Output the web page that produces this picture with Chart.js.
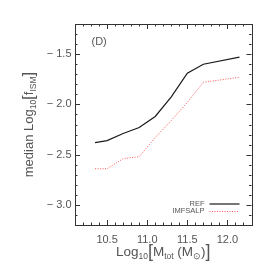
<!DOCTYPE html>
<html><head><meta charset="utf-8">
<script src="https://cdn.jsdelivr.net/npm/chart.js@4/dist/chart.umd.min.js"></script>
<style>html,body{margin:0;padding:0;background:#fff}#c{display:block}</style>
</head><body>
<canvas id="c" width="274" height="274"></canvas>
<script>
const massBins = [10.35, 10.5, 10.7, 10.9, 11.1, 11.3, 11.5, 11.7, 12.15];
const refValues = [-2.38, -2.36, -2.29, -2.23, -2.12, -1.925, -1.69, -1.60, -1.53];
const imfsalpValues = [-2.64, -2.64, -2.54, -2.52, -2.33, -2.16, -1.98, -1.78, -1.73];
const xTickLabels = [10.5, 11.0, 11.5, 12.0];
const yTickLabels = [-3.0, -2.5, -2.0, -1.5];
const seriesNames = ['REF', 'IMFSALP'];

const TXT = '#555';
const FONT = '"Liberation Sans", Arial, sans-serif';

function richText(ctx, segs, x, y, align) {
  let w = 0;
  segs.forEach(s => { ctx.font = s.s + 'px ' + FONT; w += ctx.measureText(s.t).width; });
  let cx = align === 'center' ? x - w / 2 : x;
  ctx.textAlign = 'left';
  ctx.textBaseline = 'alphabetic';
  segs.forEach(s => {
    ctx.font = s.s + 'px ' + FONT;
    ctx.fillText(s.t, cx, y + (s.dy || 0));
    cx += ctx.measureText(s.t).width;
  });
}

const decor = {
  id: 'decor',
  afterDraw(chart) {
    const ctx = chart.ctx, a = chart.chartArea;
    const xs = chart.scales.x, ys = chart.scales.y;
    ctx.save();
    ctx.strokeStyle = '#333';
    ctx.lineWidth = 1;
    ctx.strokeRect(Math.round(a.left) + 0.5, Math.round(a.top) + 0.5, Math.round(a.right - a.left), Math.round(a.bottom - a.top));
    ctx.beginPath();
    for (let i = 0; i <= 22; i++) {
      const v = 10.1 + i * 0.1;
      const px = Math.round(xs.getPixelForValue(v)) + 0.5;
      const major = Math.abs((v * 2) - Math.round(v * 2)) < 1e-6;
      const L = major ? 5 : 2.5;
      ctx.moveTo(px, a.bottom); ctx.lineTo(px, a.bottom - L);
      ctx.moveTo(px, a.top); ctx.lineTo(px, a.top + L);
    }
    for (let i = 0; i <= 20; i++) {
      const v = -3.2 + i * 0.1;
      const py = Math.round(ys.getPixelForValue(v)) + 0.5;
      const major = Math.abs((v * 2) - Math.round(v * 2)) < 1e-6;
      const L = major ? 5 : 2.5;
      ctx.moveTo(a.left, py); ctx.lineTo(a.left + L, py);
      ctx.moveTo(a.right, py); ctx.lineTo(a.right - L, py);
    }
    ctx.stroke();
    ctx.fillStyle = TXT;
    ctx.font = '11px ' + FONT;
    ctx.textAlign = 'center';
    ctx.textBaseline = 'alphabetic';
    xTickLabels.forEach(v => ctx.fillText(v.toFixed(1), xs.getPixelForValue(v), 242.5));
    ctx.textAlign = 'right';
    ctx.textBaseline = 'middle';
    yTickLabels.forEach(v => ctx.fillText('\u2212 ' + Math.abs(v).toFixed(1), 71.5, ys.getPixelForValue(v)));
    ctx.textAlign = 'left';
    ctx.textBaseline = 'alphabetic';
    ctx.font = '11px ' + FONT;
    ctx.fillText('(D)', 91.5, 45);
    richText(ctx, [
      {t:'Log', s:13.5}, {t:'10', s:8.5, dy:3}, {t:'[', s:18, dy:1}, {t:'M', s:13.5}, {t:'tot', s:8.5, dy:3},
      {t:' (M', s:13.5}, {t:'\u2299', s:9, dy:3}, {t:')', s:13.5}, {t:']', s:18, dy:1}
    ], (a.left + a.right) / 2, 255.5, 'center');
    ctx.save();
    ctx.translate(33, (a.top + a.bottom) / 2);
    ctx.rotate(-Math.PI / 2);
    richText(ctx, [
      {t:'median Log', s:13}, {t:'10', s:8.5, dy:3}, {t:'[', s:17, dy:1}, {t:'f', s:13}, {t:'ISM', s:8.5, dy:3}, {t:']', s:17, dy:1}
    ], 0, 0, 'center');
    ctx.restore();
    ctx.font = '7.5px ' + FONT;
    ctx.textAlign = 'right';
    ctx.textBaseline = 'alphabetic';
    const ds = chart.data.datasets;
    const rows = [205.5, 213];
    ds.forEach((d, i) => {
      ctx.fillStyle = TXT;
      ctx.fillText(d.label, 204.5, rows[i]);
      ctx.beginPath();
      ctx.strokeStyle = d.borderColor;
      ctx.lineWidth = d.borderWidth;
      ctx.setLineDash(d.borderDash || []);
      ctx.moveTo(209.5, rows[i] - 1.5);
      ctx.lineTo(239.5, rows[i] - 1.5);
      ctx.stroke();
    });
    ctx.restore();
  }
};

new Chart(document.getElementById('c'), {
  type: 'line',
  data: {
    datasets: [
      { label: seriesNames[0], data: massBins.map((x, i) => ({x, y: refValues[i]})),
        borderColor: '#1a1a1a', borderWidth: 1.2, pointRadius: 0, fill: false, tension: 0 },
      { label: seriesNames[1], data: massBins.map((x, i) => ({x, y: imfsalpValues[i]})),
        borderColor: 'rgb(255,85,85)', borderWidth: 1, borderDash: [1, 1.5], pointRadius: 0, fill: false, tension: 0 }
    ]
  },
  options: {
    responsive: false,
    animation: false,
    devicePixelRatio: 1,
    layout: { padding: { left: 75, top: 24, right: 22.5, bottom: 49 } },
    plugins: { legend: { display: false }, tooltip: { enabled: false } },
    scales: {
      x: { type: 'linear', min: 10.1, max: 12.3, display: false },
      y: { type: 'linear', min: -3.2, max: -1.2, display: false }
    }
  },
  plugins: [decor]
});
</script>
</body></html>
